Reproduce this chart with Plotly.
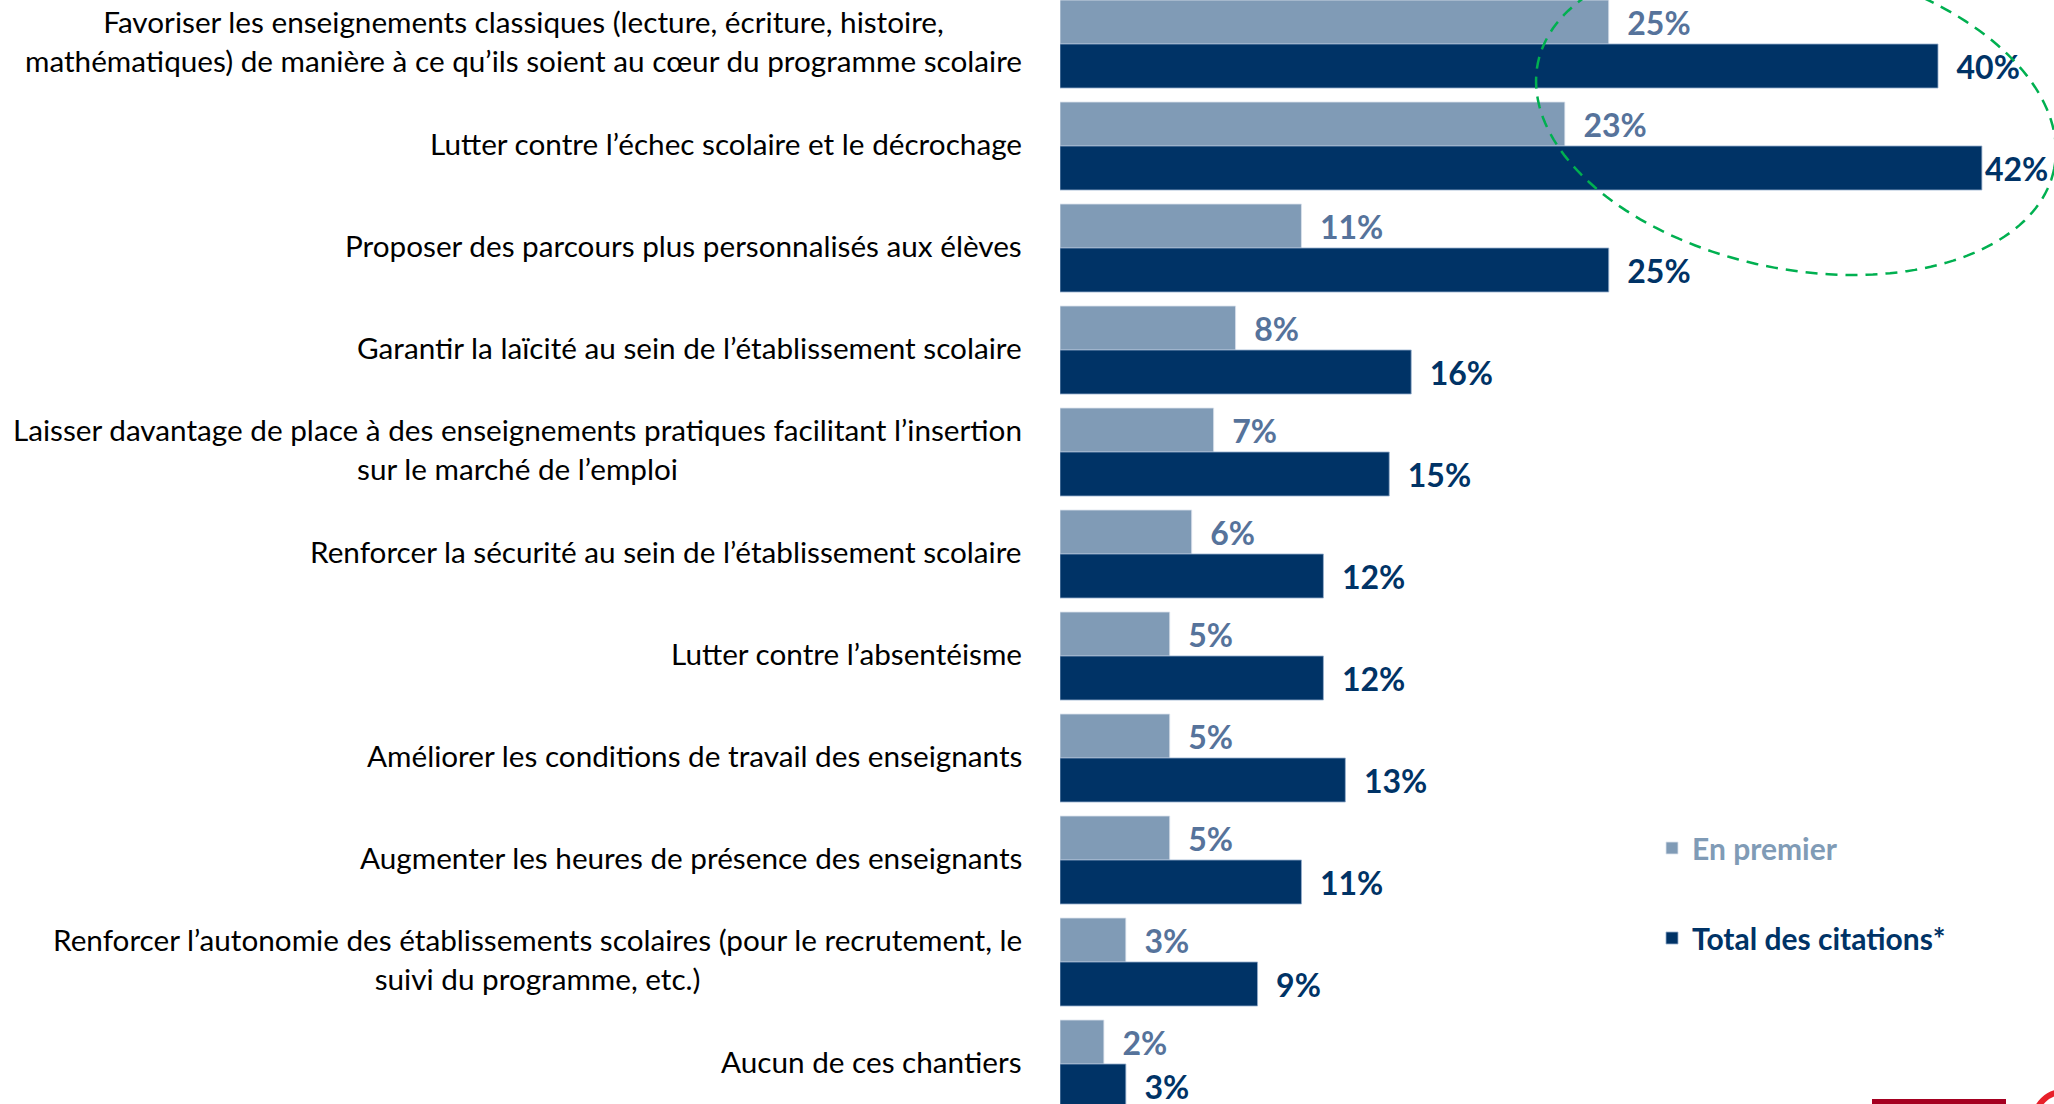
import numpy as np
import plotly.graph_objects as go

# ---------------- data ----------------
categories = [
    "Favoriser les enseignements classiques (lecture, écriture, histoire,<br>mathématiques) de manière à ce qu’ils soient au cœur du programme scolaire",
    "Lutter contre l’échec scolaire et le décrochage",
    "Proposer des parcours plus personnalisés aux élèves",
    "Garantir la laïcité au sein de l’établissement scolaire",
    "Laisser davantage de place à des enseignements pratiques facilitant l’insertion<br>sur le marché de l’emploi",
    "Renforcer la sécurité au sein de l’établissement scolaire",
    "Lutter contre l’absentéisme",
    "Améliorer les conditions de travail des enseignants",
    "Augmenter les heures de présence des enseignants",
    "Renforcer l’autonomie des établissements scolaires (pour le recrutement, le<br>suivi du programme, etc.)",
    "Aucun de ces chantiers",
]
en_premier = [25, 23, 11, 8, 7, 6, 5, 5, 5, 3, 2]
total_citations = [40, 42, 25, 16, 15, 12, 12, 13, 11, 9, 3]
series_names = ["En premier", "Total des citations*"]

# ---------------- style ----------------
W, H = 2054, 1104
PLOT_LEFT = 1060
LIGHT = "#809bb6"
LIGHT_TXT = "#56739b"
DARK = "#003366"
FONT = "Lato"
PAD = "\u00a0\u00a0"

plot_w = W - PLOT_LEFT
x_max = plot_w / 21.95  # px per percentage point

pitch = 102.0
first_center = 44.0
y_top = -first_center / pitch
y_bot = (H - first_center) / pitch


def labels(vals):
    out = []
    for v in vals:
        pad = PAD if v < max(total_citations) else ""
        out.append(f"{pad}{v}%")
    return out


fig = go.Figure()
fig.add_trace(go.Bar(
    y=categories, x=en_premier, orientation="h", name=series_names[0],
    marker=dict(color=LIGHT, line=dict(color="rgba(220,228,238,0.8)", width=1)),
    text=labels(en_premier), textposition="outside", constraintext="none",
    textfont=dict(family=FONT, size=32, color=LIGHT_TXT, weight="bold"),
    cliponaxis=False, legendgroup="a",
))
fig.add_trace(go.Bar(
    y=categories, x=total_citations, orientation="h", name=series_names[1],
    marker=dict(color=DARK, line=dict(color="rgba(150,175,205,0.8)", width=1)),
    text=labels(total_citations), textposition="outside", constraintext="none",
    textfont=dict(family=FONT, size=32, color=DARK, weight="bold"),
    cliponaxis=False, legendgroup="b",
))

# category labels (centered multi-line blocks, right aligned to the axis)
for c in categories:
    fig.add_annotation(
        x=0, xref="paper", y=c, yref="y", text=c, showarrow=False,
        xanchor="right", yanchor="middle", align="center", xshift=-36, yshift=3,
        font=dict(family=FONT, size=29.7, color="#000000"),
    )

# green dashed highlight ellipse (decoration)
cx, cy, a, b, th = 1796.0, 116.0, 263.5, 153.0, np.deg2rad(11.6)
t = np.linspace(0, 2 * np.pi, 181)
px = cx + a * np.cos(t) * np.cos(th) - b * np.sin(t) * np.sin(th)
py = cy + a * np.cos(t) * np.sin(th) + b * np.sin(t) * np.cos(th)
qx = (px - PLOT_LEFT) / plot_w
qy = 1 - py / H
path = "M " + " L ".join(f"{x:.5f},{y:.5f}" for x, y in zip(qx, qy)) + " Z"
fig.add_shape(type="path", path=path, xref="paper", yref="paper",
              line=dict(color="#00b050", width=2.5, dash="12px,8px"))

# cropped logo fragments bottom-right
fig.add_shape(type="rect", xref="paper", yref="paper",
              x0=(1872 - PLOT_LEFT) / plot_w, x1=(2006 - PLOT_LEFT) / plot_w,
              y0=0, y1=5 / H, fillcolor="#a50021", line=dict(width=0))
fig.add_shape(type="circle", xref="paper", yref="paper",
              x0=(2035 - PLOT_LEFT) / plot_w, x1=(2091 - PLOT_LEFT) / plot_w,
              y0=1 - 1147 / H, y1=1 - 1092 / H,
              line=dict(color="#e8202a", width=6))

fig.update_layout(
    width=W, height=H,
    margin=dict(l=PLOT_LEFT, r=0, t=0, b=0, pad=0),
    paper_bgcolor="white", plot_bgcolor="white",
    barmode="group", bargap=14 / 102, bargroupgap=0,
    xaxis=dict(range=[0, x_max], visible=False, fixedrange=True),
    yaxis=dict(type="category", categoryorder="array", categoryarray=categories,
               range=[y_bot, y_top], showticklabels=False, showgrid=False,
               zeroline=False, showline=False, ticks=""),
    showlegend=True,
    legend=dict(
        x=(1652 - PLOT_LEFT) / plot_w, xanchor="left",
        y=1 - 822 / H, yanchor="top",
        traceorder="grouped", tracegroupgap=48,
        font=dict(family=FONT, size=30, color=DARK, weight="bold"),
        bgcolor="rgba(0,0,0,0)",
    ),
    font=dict(family=FONT),
)
fig.data[0].name = f"<span style='color:{LIGHT}'>{series_names[0]}</span>"
fig.data[1].name = f"<span style='color:{DARK}'>{series_names[1]}</span>"

fig.write_html(
    "out.html",
    config={"displayModeBar": False},
    post_script="document.body.style.margin='0px';document.body.style.overflow='hidden';",
)
